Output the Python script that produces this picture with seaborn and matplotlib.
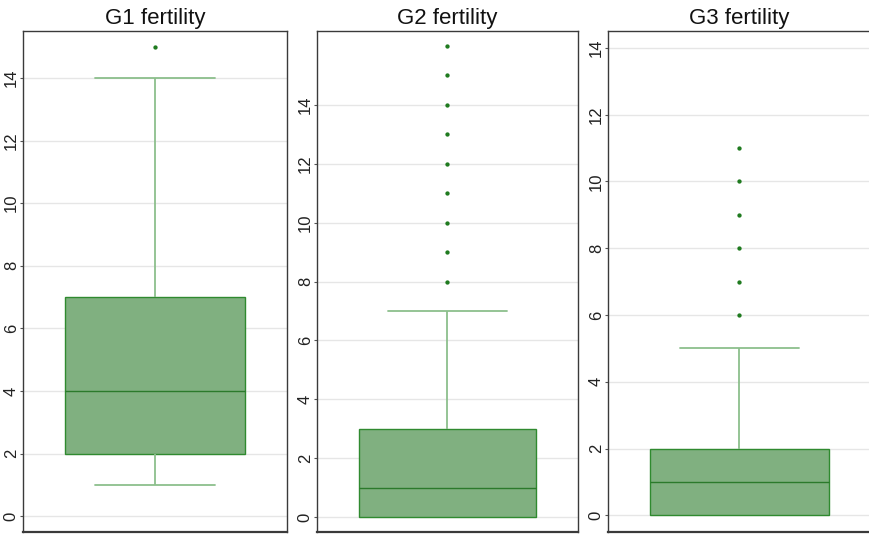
import numpy as np
import pandas as pd
import matplotlib
matplotlib.use("Agg")
import matplotlib.pyplot as plt
import seaborn as sns

sns.set_theme(style="white")
plt.rcParams['font.family'] = ['Liberation Sans', 'DejaVu Sans']

# Data: distinct values and their (estimated) counts per generation
titles = ["G1 fertility", "G2 fertility", "G3 fertility"]

g1_values = [1, 2, 3, 4, 5, 6, 7, 8, 9, 10, 11, 12, 13, 14, 15]
g1_counts = [10, 20, 15, 15, 8, 6, 6, 5, 4, 4, 3, 2, 1, 1, 1]

g2_values = [0, 1, 2, 3, 4, 5, 6, 7, 8, 9, 10, 11, 12, 13, 14, 15, 16]
g2_counts = [30, 25, 15, 10, 5, 3, 2, 2, 1, 1, 1, 1, 1, 1, 1, 1, 1]

g3_values = [0, 1, 2, 3, 4, 5, 6, 7, 8, 9, 10, 11]
g3_counts = [30, 30, 20, 10, 4, 1, 1, 1, 1, 1, 1, 1]

yticks = [0, 2, 4, 6, 8, 10, 12, 14]
ylims = [(-0.5, 15.5), (-0.5, 16.5), (-0.5, 14.5)]

groups = [(g1_values, g1_counts), (g2_values, g2_counts), (g3_values, g3_counts)]

W, H = 870, 535
fig = plt.figure(figsize=(W / 100, H / 100), dpi=100)
fig.patch.set_facecolor("white")

boxes_px = [(23, 264), (317, 261), (608, 263)]
top_px, bottom_px = 31, 532

fill = "#80b080"
edge = "#2f8a2f"
whisk = "#8cbf8c"
med = "#2b7a2b"

for i, ((vals, cnts), title, ylim, (lx, wx)) in enumerate(zip(groups, titles, ylims, boxes_px)):
    ax = fig.add_axes([lx / W, 1 - bottom_px / H, wx / W, (bottom_px - top_px) / H])
    data = pd.DataFrame({"v": np.repeat(vals, cnts)})
    sns.boxplot(
        data=data, y="v", ax=ax, color=fill, saturation=1, width=0.68,
        linewidth=1.0, linecolor=edge,
        boxprops=dict(facecolor=fill, edgecolor=edge, linewidth=1.0),
        whiskerprops=dict(color=whisk, linewidth=1.3),
        capprops=dict(color=whisk, linewidth=1.3),
        medianprops=dict(color=med, linewidth=1.0),
        flierprops=dict(marker="o", markersize=2.1, markerfacecolor="#1e7a1e",
                        markeredgecolor="#1e7a1e", linestyle="none"),
    )
    # whiskers: find zero-length ones to hide their caps
    zero_levels = []
    for ln in ax.lines:
        xd = np.asarray(ln.get_xdata(), dtype=float)
        yd = np.asarray(ln.get_ydata(), dtype=float)
        if len(xd) == 2 and xd[0] == xd[1] and yd[0] == yd[1] and ln.get_color() == whisk:
            zero_levels.append(yd[0])
    for ln in ax.lines:
        xd = np.asarray(ln.get_xdata(), dtype=float)
        yd = np.asarray(ln.get_ydata(), dtype=float)
        if len(xd) == 2 and xd[0] != xd[1] and yd[0] == yd[1] and ln.get_color() == whisk:
            c = xd.mean()
            ln.set_xdata([c - 0.227, c + 0.227])
            if yd[0] in zero_levels:
                ln.set_visible(False)
    ax.set_xlim(-0.5, 0.5)
    ax.set_ylim(*ylim)
    ax.set_yticks(yticks)
    ax.set_yticklabels([str(t) for t in yticks], rotation=90, va="center", fontsize=12, color="#222222")
    ax.set_xticks([])
    ax.set_xlabel("")
    ax.set_ylabel("")
    ax.yaxis.grid(True, color="#e6e6e6", linewidth=1)
    ax.set_axisbelow(True)
    ax.tick_params(axis="y", length=2.5, width=0.8, color="#555555", pad=0.5, left=True)
    for s in ["left", "top", "right", "bottom"]:
        ax.spines[s].set_visible(True)
        ax.spines[s].set_color("#3a3a3a")
        ax.spines[s].set_linewidth(1.0)
    ax.spines["bottom"].set_linewidth(1.6)
    ax.set_title(title, fontsize=16, pad=5, color="#111111")

fig.savefig("out.png", dpi=100, facecolor="white")
